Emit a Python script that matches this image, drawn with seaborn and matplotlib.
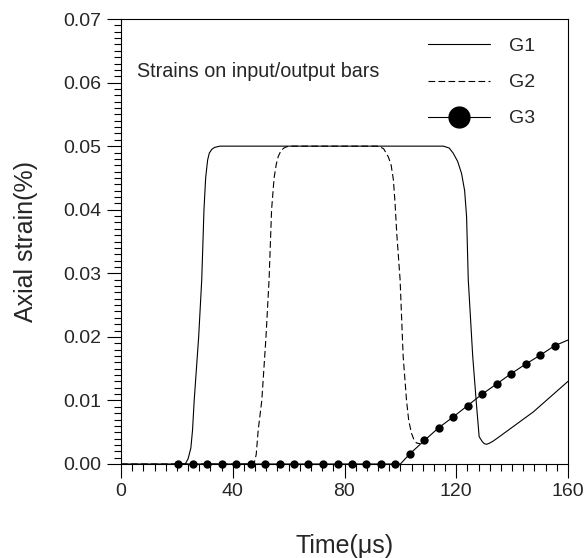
import matplotlib
matplotlib.use("Agg")
import matplotlib.pyplot as plt
from matplotlib.lines import Line2D
from matplotlib.ticker import MultipleLocator
import seaborn as sns

# ---- data ----
g1_t = [0, 20, 23.0, 24.0, 25.0, 25.6, 26.2, 27.8, 28.9, 29.7, 30.3, 31.0, 31.6, 32.5, 33.5, 35.4,
        60, 100, 115.4, 117.5, 118.9, 120.5, 121.9, 123.0, 123.7, 124.3, 125.9, 127.3, 128.2,
        129.2, 130.0, 130.9, 132.0, 133.2, 134.5, 147.6, 160]
g1_y = [0, 0, 0, 0.0008, 0.0025, 0.0053, 0.010, 0.020, 0.029, 0.040, 0.045, 0.0478, 0.0489, 0.0495,
        0.0498, 0.050, 0.050, 0.050, 0.050, 0.0497, 0.0489, 0.0476, 0.0457, 0.0430, 0.0389, 0.029,
        0.0169, 0.0090, 0.0043, 0.0036, 0.0032, 0.0031, 0.0033, 0.0036, 0.0040, 0.0082, 0.0130]

g2_t = [0, 46.5, 47.6, 48.4, 49.1, 50.4, 51.9, 53.0, 53.9, 54.8, 55.6, 56.3, 57.3, 58.3, 59.3, 60.5,
        80, 92.1, 94.0, 95.7, 96.7, 97.5, 98.1, 98.7, 99.9, 101.0, 102.2, 103.0, 104.0, 104.9,
        105.8, 107.0]
g2_y = [0, 0, 0, 0.0015, 0.0053, 0.010, 0.020, 0.029, 0.040, 0.045, 0.0472, 0.0484, 0.0493, 0.0497,
        0.0499, 0.050, 0.050, 0.050, 0.0496, 0.0483, 0.0470, 0.0447, 0.0410, 0.0363, 0.029, 0.0169,
        0.010, 0.0068, 0.0048, 0.0038, 0.0033, 0.0032]

g3_t = [20.5, 25.7, 30.9, 36.0, 41.2, 46.4, 51.6, 56.8, 61.9, 67.1, 72.3, 77.5, 82.7, 87.8, 93.0,
        98.2, 103.4, 108.6, 113.7, 118.9, 124.1, 129.3, 134.5, 139.6, 144.8, 150.0, 155.2]
g3_y = [0, 0, 0, 0, 0, 0, 0, 0, 0, 0, 0, 0, 0, 0, 0,
        0, 0.0016, 0.0037, 0.0057, 0.0074, 0.0092, 0.0110, 0.0126, 0.0142, 0.0157, 0.0171, 0.0186]
g3_line_t = [20.5, 100.0] + g3_t[16:] + [160]
g3_line_y = [0, 0] + g3_y[16:] + [0.0195]

x_ticks = [0, 40, 80, 120, 160]
y_ticks = [0.00, 0.01, 0.02, 0.03, 0.04, 0.05, 0.06, 0.07]
legend_labels = ["G1", "G2", "G3"]
annotation = "Strains on input/output bars"

# ---- plot ----
sns.set_theme(style="white")
plt.rcParams["font.family"] = ["Liberation Sans", "DejaVu Sans"]

fig = plt.figure(figsize=(5.84, 5.58), dpi=100)
ax = fig.add_axes([121 / 584, 1 - 464 / 558, 447 / 584, 445 / 558])

lw = 0.8
sns.lineplot(x=g1_t, y=g1_y, ax=ax, color="black", lw=lw, sort=False, estimator=None)
sns.lineplot(x=g2_t, y=g2_y, ax=ax, color="black", lw=lw, sort=False, estimator=None,
             linestyle=(0, (6, 3)))
sns.lineplot(x=g3_line_t, y=g3_line_y, ax=ax, color="black", lw=lw, sort=False, estimator=None)
sns.scatterplot(x=g3_t, y=g3_y, ax=ax, color="black", s=36, edgecolor="black", linewidth=0,
                clip_on=False, zorder=5)

ax.set_xlim(0, 160)
ax.set_ylim(0, 0.07)
ax.set_xticks(x_ticks)
ax.set_yticks(y_ticks)
ax.set_xticklabels([str(v) for v in x_ticks])
ax.set_yticklabels([f"{v:.2f}" for v in y_ticks])
ax.xaxis.set_minor_locator(MultipleLocator(4))
ax.yaxis.set_minor_locator(MultipleLocator(0.001))

for s in ax.spines.values():
    s.set_color("black")
    s.set_linewidth(0.8)

ax.tick_params(which="both", direction="out", color="black", width=0.8,
               bottom=True, left=True, top=False, right=False)
ax.tick_params(which="major", length=10, labelsize=14, pad=4)
ax.tick_params(which="minor", length=5)

ax.set_xlabel("Time(μs)", fontsize=18, labelpad=24)
ax.set_ylabel("Axial strain(%)", fontsize=18, labelpad=18)

ax.text(0.036, 0.881, annotation, transform=ax.transAxes, fontsize=14.2,
        va="center", ha="left")

handles = [
    Line2D([], [], color="black", lw=lw),
    Line2D([], [], color="black", lw=lw, linestyle=(0, (6, 3))),
    Line2D([], [], color="black", lw=lw, marker="o", markersize=15),
]
leg = ax.legend(handles, legend_labels, loc="upper left", bbox_to_anchor=(0.664, 0.98),
                frameon=False, fontsize=14, handlelength=3.2, handletextpad=1.0,
                labelspacing=0.95, borderpad=0)

fig.savefig("out.png", dpi=100)
